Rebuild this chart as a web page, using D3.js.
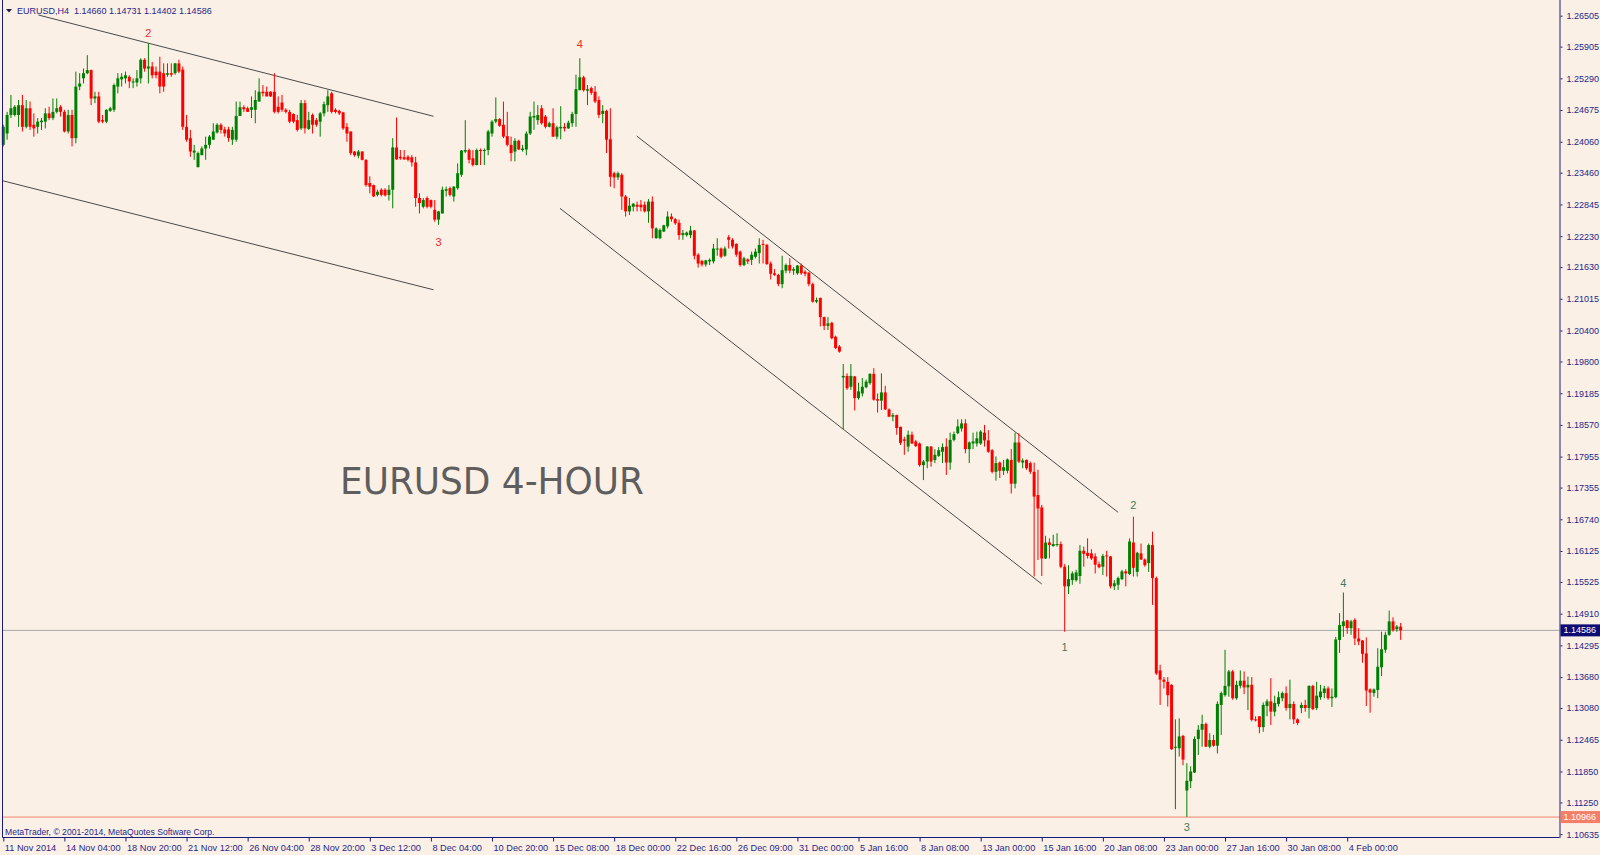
<!DOCTYPE html>
<html><head><meta charset="utf-8">
<script src="https://cdn.jsdelivr.net/npm/d3@7"></script>
<style>
html,body{margin:0;padding:0;background:#fbf0e6;}
svg{display:block;}
</style></head><body>
<svg id="chart" width="1600" height="855"></svg>
<script>
// ---- DATA (EURUSD H4) ----
const opens = [
1.2400,1.2422,1.2458,1.2458,1.2458,1.2477,1.2435,1.2471,1.2439,1.2435,
1.2444,1.2445,1.2461,1.2452,1.2464,1.2474,1.2464,1.2426,1.2458,1.2413,
1.2513,1.2529,1.2539,1.2545,1.2490,1.2494,1.2448,1.2445,1.2466,1.2468,
1.2513,1.2527,1.2529,1.2532,1.2521,1.2521,1.2529,1.2565,1.2548,1.2552,
1.2542,1.2542,1.2539,1.2536,1.2539,1.2539,1.2558,1.2546,1.2435,1.2413,
1.2385,1.2357,1.2380,1.2393,1.2400,1.2410,1.2424,1.2439,1.2430,1.2430,
1.2410,1.2410,1.2456,1.2473,1.2471,1.2468,1.2468,1.2484,1.2503,1.2503,
1.2503,1.2503,1.2474,1.2482,1.2468,1.2464,1.2460,1.2448,1.2432,1.2481,
1.2431,1.2458,1.2448,1.2445,1.2461,1.2477,1.2500,1.2468,1.2466,1.2463,
1.2435,1.2426,1.2387,1.2379,1.2387,1.2371,1.2326,1.2322,1.2303,1.2313,
1.2313,1.2303,1.2313,1.2395,1.2377,1.2376,1.2377,1.2376,1.2366,1.2297,
1.2280,1.2297,1.2293,1.2274,1.2255,1.2267,1.2311,1.2316,1.2300,1.2316,
1.2342,1.2387,1.2390,1.2374,1.2361,1.2390,1.2388,1.2390,1.2422,1.2445,
1.2450,1.2439,1.2417,1.2400,1.2387,1.2408,1.2390,1.2391,1.2422,1.2453,
1.2448,1.2471,1.2455,1.2435,1.2442,1.2416,1.2432,1.2435,1.2432,1.2442,
1.2460,1.2506,1.2531,1.2505,1.2510,1.2503,1.2487,1.2460,1.2466,1.2411,
1.2345,1.2337,1.2342,1.2300,1.2271,1.2280,1.2284,1.2284,1.2284,1.2271,
1.2290,1.2219,1.2219,1.2232,1.2242,1.2261,1.2256,1.2249,1.2225,1.2225,
1.2225,1.2234,1.2187,1.2175,1.2168,1.2174,1.2174,1.2198,1.2199,1.2185,
1.2221,1.2216,1.2208,1.2193,1.2167,1.2178,1.2177,1.2183,1.2190,1.2208,
1.2206,1.2170,1.2151,1.2148,1.2130,1.2156,1.2167,1.2156,1.2151,1.2166,
1.2154,1.2152,1.2130,1.2096,1.2103,1.2066,1.2049,1.2055,1.2028,1.2009,
1.1949,1.1952,1.1931,1.1951,1.1909,1.1918,1.1930,1.1938,1.1956,1.1907,
1.1904,1.1920,1.1887,1.1873,1.1876,1.1853,1.1829,1.1815,1.1838,1.1825,
1.1821,1.1779,1.1786,1.1815,1.1789,1.1797,1.1805,1.1815,1.1784,1.1828,
1.1841,1.1850,1.1860,1.1810,1.1821,1.1821,1.1821,1.1842,1.1827,1.1808,
1.1766,1.1784,1.1768,1.1768,1.1789,1.1743,1.1823,1.1784,1.1789,1.1783,
1.1766,1.1721,1.1697,1.1598,1.1629,1.1622,1.1624,1.1626,1.1582,1.1544,
1.1556,1.1556,1.1564,1.1613,1.1609,1.1608,1.1602,1.1587,1.1582,1.1604,
1.1602,1.1544,1.1547,1.1558,1.1573,1.1568,1.1629,1.1572,1.1608,1.1596,
1.1589,1.1624,1.1560,1.1381,1.1363,1.1359,1.1353,1.1231,1.1230,1.1254,
1.1148,1.1166,1.1183,1.1248,1.1266,1.1277,1.1233,1.1246,1.1235,1.1314,
1.1333,1.1350,1.1379,1.1327,1.1351,1.1361,1.1348,1.1353,1.1286,1.1292,
1.1271,1.1312,1.1321,1.1301,1.1316,1.1327,1.1337,1.1308,1.1316,1.1286,
1.1308,1.1314,1.1308,1.1351,1.1308,1.1329,1.1337,1.1346,1.1327,1.1329,
1.1440,1.1467,1.1478,1.1463,1.1479,1.1443,1.1439,1.1414,1.1344,1.1337,
1.1343,1.1387,1.1421,1.1450,1.1476,1.1461,1.14660];
const highs = [
1.2439,1.2464,1.2497,1.2477,1.2487,1.2497,1.2487,1.2484,1.2461,1.2452,
1.2452,1.2471,1.2474,1.2490,1.2490,1.2477,1.2468,1.2468,1.2468,1.2542,
1.2539,1.2548,1.2574,1.2546,1.2503,1.2503,1.2458,1.2469,1.2474,1.2519,
1.2539,1.2539,1.2542,1.2535,1.2529,1.2545,1.2568,1.2568,1.2597,1.2561,
1.2552,1.2571,1.2558,1.2558,1.2558,1.2559,1.2565,1.2552,1.2458,1.2429,
1.2400,1.2387,1.2397,1.2416,1.2419,1.2442,1.2442,1.2442,1.2435,1.2435,
1.2435,1.2484,1.2484,1.2477,1.2474,1.2494,1.2506,1.2529,1.2516,1.2513,
1.2504,1.2539,1.2494,1.2497,1.2471,1.2468,1.2461,1.2458,1.2487,1.2487,
1.2464,1.2461,1.2452,1.2464,1.2484,1.2506,1.2503,1.2471,1.2468,1.2464,
1.2442,1.2426,1.2388,1.2390,1.2388,1.2372,1.2339,1.2323,1.2313,1.2316,
1.2316,1.2322,1.2413,1.2453,1.2390,1.2390,1.2380,1.2380,1.2377,1.2306,
1.2297,1.2300,1.2294,1.2293,1.2272,1.2319,1.2319,1.2319,1.2320,1.2364,
1.2390,1.2448,1.2393,1.2390,1.2393,1.2393,1.2393,1.2429,1.2448,1.2492,
1.2452,1.2484,1.2464,1.2416,1.2413,1.2410,1.2400,1.2426,1.2464,1.2484,
1.2477,1.2477,1.2458,1.2445,1.2471,1.2437,1.2475,1.2442,1.2447,1.2464,
1.2536,1.2568,1.2534,1.2516,1.2513,1.2514,1.2494,1.2477,1.2468,1.2471,
1.2348,1.2348,1.2345,1.2303,1.2297,1.2287,1.2290,1.2293,1.2290,1.2295,
1.2300,1.2240,1.2238,1.2245,1.2271,1.2267,1.2258,1.2255,1.2235,1.2232,
1.2243,1.2235,1.2190,1.2177,1.2177,1.2180,1.2208,1.2219,1.2201,1.2203,
1.2225,1.2219,1.2209,1.2195,1.2183,1.2180,1.2193,1.2199,1.2219,1.2216,
1.2208,1.2174,1.2159,1.2150,1.2185,1.2170,1.2180,1.2163,1.2167,1.2170,
1.2157,1.2154,1.2133,1.2104,1.2104,1.2067,1.2066,1.2057,1.2030,1.2012,
1.1975,1.1957,1.1975,1.1952,1.1939,1.1948,1.1945,1.1957,1.1967,1.1918,
1.1957,1.1933,1.1889,1.1880,1.1877,1.1854,1.1834,1.1846,1.1844,1.1828,
1.1823,1.1789,1.1816,1.1816,1.1810,1.1814,1.1821,1.1831,1.1842,1.1844,
1.1868,1.1868,1.1868,1.1825,1.1842,1.1844,1.1847,1.1857,1.1847,1.1810,
1.1796,1.1786,1.1789,1.1792,1.1810,1.1842,1.1841,1.1792,1.1790,1.1786,
1.1784,1.1770,1.1702,1.1642,1.1637,1.1644,1.1647,1.1631,1.1587,1.1585,
1.1573,1.1576,1.1624,1.1621,1.1637,1.1616,1.1608,1.1592,1.1607,1.1613,
1.1603,1.1556,1.1563,1.1576,1.1577,1.1637,1.1679,1.1611,1.1627,1.1598,
1.1627,1.1650,1.1563,1.1392,1.1368,1.1368,1.1354,1.1286,1.1288,1.1256,
1.1201,1.1195,1.1253,1.1275,1.1295,1.1280,1.1259,1.1256,1.1321,1.1340,
1.1421,1.1382,1.1382,1.1361,1.1381,1.1379,1.1369,1.1368,1.1292,1.1292,
1.1319,1.1325,1.1366,1.1332,1.1340,1.1340,1.1350,1.1363,1.1321,1.1288,
1.1319,1.1324,1.1352,1.1353,1.1359,1.1353,1.1351,1.1350,1.1346,1.1446,
1.1492,1.1532,1.1479,1.1479,1.1482,1.1463,1.1440,1.1445,1.1346,1.1346,
1.1424,1.1456,1.1456,1.1497,1.1484,1.1469,1.14731];
const lows = [
1.2397,1.2410,1.2452,1.2455,1.2435,1.2426,1.2432,1.2429,1.2416,1.2422,
1.2429,1.2432,1.2448,1.2448,1.2461,1.2455,1.2424,1.2422,1.2397,1.2403,
1.2506,1.2519,1.2537,1.2477,1.2481,1.2442,1.2442,1.2442,1.2464,1.2464,
1.2500,1.2513,1.2519,1.2510,1.2510,1.2513,1.2519,1.2542,1.2519,1.2529,
1.2529,1.2500,1.2503,1.2532,1.2532,1.2536,1.2539,1.2429,1.2406,1.2377,
1.2371,1.2356,1.2380,1.2371,1.2393,1.2410,1.2422,1.2422,1.2416,1.2406,
1.2400,1.2406,1.2456,1.2464,1.2464,1.2452,1.2442,1.2484,1.2494,1.2494,
1.2493,1.2461,1.2461,1.2464,1.2461,1.2442,1.2442,1.2426,1.2429,1.2422,
1.2429,1.2422,1.2435,1.2416,1.2455,1.2464,1.2461,1.2461,1.2458,1.2429,
1.2406,1.2380,1.2377,1.2374,1.2370,1.2319,1.2306,1.2299,1.2300,1.2300,
1.2300,1.2292,1.2277,1.2371,1.2371,1.2371,1.2368,1.2358,1.2280,1.2267,
1.2277,1.2277,1.2277,1.2251,1.2245,1.2267,1.2300,1.2300,1.2290,1.2313,
1.2338,1.2384,1.2364,1.2358,1.2360,1.2361,1.2361,1.2380,1.2416,1.2442,
1.2435,1.2413,1.2397,1.2368,1.2368,1.2390,1.2387,1.2380,1.2419,1.2429,
1.2439,1.2439,1.2432,1.2434,1.2415,1.2411,1.2411,1.2426,1.2431,1.2435,
1.2435,1.2506,1.2503,1.2477,1.2497,1.2481,1.2452,1.2442,1.2384,1.2319,
1.2316,1.2332,1.2274,1.2261,1.2264,1.2271,1.2271,1.2271,1.2269,1.2249,
1.2219,1.2218,1.2217,1.2231,1.2238,1.2251,1.2245,1.2216,1.2216,1.2222,
1.2219,1.2178,1.2162,1.2164,1.2164,1.2167,1.2170,1.2185,1.2180,1.2183,
1.2199,1.2199,1.2183,1.2164,1.2165,1.2169,1.2167,1.2180,1.2170,1.2170,
1.2167,1.2139,1.2146,1.2126,1.2122,1.2151,1.2151,1.2148,1.2148,1.2148,
1.2145,1.2126,1.2094,1.2093,1.2048,1.2041,1.2041,1.2023,1.2004,1.1997,
1.1849,1.1925,1.1925,1.1885,1.1906,1.1912,1.1928,1.1935,1.1904,1.1881,
1.1886,1.1886,1.1872,1.1864,1.1838,1.1818,1.1799,1.1805,1.1820,1.1814,
1.1776,1.1750,1.1773,1.1776,1.1783,1.1795,1.1783,1.1760,1.1770,1.1825,
1.1839,1.1844,1.1802,1.1783,1.1810,1.1815,1.1818,1.1815,1.1803,1.1763,
1.1749,1.1754,1.1760,1.1763,1.1724,1.1734,1.1783,1.1773,1.1770,1.1762,
1.1563,1.1595,1.1564,1.1597,1.1598,1.1621,1.1621,1.1579,1.1456,1.1529,
1.1547,1.1553,1.1549,1.1582,1.1598,1.1595,1.1569,1.1579,1.1566,1.1563,
1.1540,1.1537,1.1537,1.1556,1.1544,1.1566,1.1563,1.1563,1.1595,1.1582,
1.1572,1.1508,1.1372,1.1314,1.1346,1.1311,1.1227,1.1112,1.1214,1.1197,
1.1097,1.1153,1.1182,1.1217,1.1233,1.1233,1.1230,1.1233,1.1220,1.1256,
1.1330,1.1330,1.1324,1.1324,1.1346,1.1335,1.1304,1.1282,1.1282,1.1259,
1.1262,1.1292,1.1275,1.1292,1.1311,1.1321,1.1303,1.1286,1.1277,1.1275,
1.1298,1.1301,1.1288,1.1304,1.1304,1.1324,1.1327,1.1324,1.1310,1.1327,
1.1415,1.1446,1.1452,1.1450,1.1430,1.1430,1.1396,1.1312,1.1299,1.1330,
1.1327,1.1370,1.1415,1.1448,1.1456,1.1456,1.14402];
const closes = [
1.2435,1.2458,1.2471,1.2474,1.2477,1.2435,1.2471,1.2435,1.2432,1.2445,
1.2447,1.2461,1.2452,1.2464,1.2471,1.2464,1.2426,1.2458,1.2413,1.2513,
1.2519,1.2539,1.2545,1.2490,1.2494,1.2445,1.2445,1.2468,1.2471,1.2516,
1.2529,1.2532,1.2535,1.2523,1.2523,1.2529,1.2565,1.2548,1.2552,1.2535,
1.2535,1.2513,1.2513,1.2539,1.2536,1.2558,1.2542,1.2435,1.2410,1.2387,
1.2389,1.2384,1.2393,1.2400,1.2416,1.2426,1.2439,1.2429,1.2422,1.2413,
1.2429,1.2456,1.2473,1.2469,1.2464,1.2473,1.2487,1.2503,1.2500,1.2494,
1.2494,1.2464,1.2464,1.2468,1.2464,1.2445,1.2445,1.2429,1.2481,1.2432,
1.2448,1.2439,1.2439,1.2461,1.2479,1.2494,1.2464,1.2464,1.2461,1.2432,
1.2422,1.2384,1.2380,1.2387,1.2371,1.2322,1.2319,1.2300,1.2309,1.2303,
1.2302,1.2313,1.2395,1.2372,1.2374,1.2372,1.2371,1.2366,1.2297,1.2287,
1.2293,1.2280,1.2280,1.2255,1.2271,1.2313,1.2314,1.2303,1.2319,1.2345,
1.2389,1.2390,1.2371,1.2361,1.2390,1.2388,1.2390,1.2426,1.2445,1.2450,
1.2437,1.2416,1.2400,1.2384,1.2408,1.2391,1.2393,1.2422,1.2455,1.2456,
1.2458,1.2442,1.2435,1.2442,1.2416,1.2434,1.2435,1.2432,1.2443,1.2460,
1.2508,1.2531,1.2506,1.2508,1.2501,1.2484,1.2458,1.2466,1.2410,1.2338,
1.2337,1.2345,1.2300,1.2271,1.2282,1.2286,1.2280,1.2279,1.2271,1.2290,
1.2238,1.2238,1.2235,1.2244,1.2261,1.2256,1.2248,1.2225,1.2229,1.2230,
1.2234,1.2185,1.2170,1.2168,1.2176,1.2177,1.2199,1.2199,1.2183,1.2199,
1.2216,1.2203,1.2187,1.2167,1.2180,1.2174,1.2187,1.2193,1.2206,1.2206,
1.2169,1.2150,1.2148,1.2130,1.2157,1.2167,1.2156,1.2159,1.2166,1.2151,
1.2150,1.2130,1.2096,1.2099,1.2066,1.2049,1.2054,1.2025,1.2006,1.1999,
1.1952,1.1928,1.1952,1.1909,1.1922,1.1931,1.1941,1.1956,1.1906,1.1904,
1.1920,1.1887,1.1873,1.1876,1.1851,1.1822,1.1826,1.1838,1.1821,1.1816,
1.1779,1.1786,1.1815,1.1786,1.1799,1.1808,1.1814,1.1784,1.1828,1.1839,
1.1854,1.1860,1.1810,1.1823,1.1825,1.1831,1.1844,1.1827,1.1805,1.1766,
1.1783,1.1768,1.1775,1.1790,1.1743,1.1823,1.1786,1.1788,1.1773,1.1766,
1.1718,1.1695,1.1598,1.1629,1.1624,1.1626,1.1626,1.1582,1.1544,1.1558,
1.1569,1.1571,1.1613,1.1607,1.1603,1.1598,1.1586,1.1581,1.1603,1.1602,
1.1544,1.1550,1.1560,1.1573,1.1569,1.1631,1.1580,1.1609,1.1596,1.1585,
1.1624,1.1560,1.1375,1.1363,1.1359,1.1333,1.1228,1.1233,1.1253,1.1208,
1.1167,1.1185,1.1248,1.1266,1.1277,1.1233,1.1246,1.1235,1.1316,1.1337,
1.1351,1.1379,1.1327,1.1353,1.1361,1.1348,1.1353,1.1285,1.1284,1.1271,
1.1314,1.1321,1.1301,1.1318,1.1329,1.1337,1.1308,1.1316,1.1286,1.1279,
1.1314,1.1308,1.1351,1.1306,1.1332,1.1340,1.1346,1.1327,1.1330,1.1441,
1.1469,1.1476,1.1463,1.1476,1.1443,1.1437,1.1413,1.1342,1.1338,1.1344,
1.1388,1.1422,1.1450,1.1476,1.1459,1.1466,1.14586];

// time-axis labels, one every 16 H4 bars starting at the first visible bar
const dateLabels = ["11 Nov 2014","14 Nov 04:00","18 Nov 20:00","21 Nov 12:00","26 Nov 04:00",
 "28 Nov 20:00","3 Dec 12:00","8 Dec 04:00","10 Dec 20:00","15 Dec 08:00","18 Dec 00:00",
 "22 Dec 16:00","26 Dec 09:00","31 Dec 00:00","5 Jan 16:00","8 Jan 08:00","13 Jan 00:00",
 "15 Jan 16:00","20 Jan 08:00","23 Jan 00:00","27 Jan 16:00","30 Jan 08:00","4 Feb 00:00"];
const dateLabelBars = [0,16,32,48,64,80,96,112,128,144,160,176,192,208,224,240,256,272,288,304,320,336,352];

const priceTicks = [1.26505,1.25905,1.25290,1.24675,1.24060,1.23460,1.22845,1.22230,1.21630,
 1.21015,1.20400,1.19800,1.19185,1.18570,1.17955,1.17355,1.16740,1.16125,1.15525,1.14910,
 1.14295,1.13680,1.13080,1.12465,1.11850,1.11250,1.10635];

// Elliott wave labels
const waveText  = ["2","3","4","1","2","3","4"];
const waveBar   = [38,114,151,278,296,310,351];
const wavePrice = [1.2616,1.2212,1.2596,1.1426,1.1702,1.1078,1.1551];
const waveDegree= ["major","major","major","minor","minor","minor","minor"];

// channel / trend lines (bar index, price)
const lineStartBar   = [9.2,-0.2,165.9,145.8];
const lineStartPrice = [1.26518,1.23305,1.24172,1.22770];
const lineEndBar     = [112.7,112.7,292.0,272.0];
const lineEndPrice   = [1.24554,1.21190,1.16875,1.15485];

const symbolHeader = "EURUSD,H4  1.14660 1.14731 1.14402 1.14586";
const bidPrice = 1.14586;
const lowLevel = 1.10966;
const chartTitle = "EURUSD 4-HOUR";
const copyright = "MetaTrader, \u00A9 2001-2014, MetaQuotes Software Corp.";

// ---- DRAWING ----
const W = 1600, H = 855;
const bg = "#fbf0e6", navy = "#1c1c7a";
const upCol = "#008000", downCol = "#ff0000";
const left = 2.5, right = 1559.5, bottom = 837.5;

const svg = d3.select("#chart");
svg.append("rect").attr("width", W).attr("height", H).attr("fill", bg);

const x = d3.scaleLinear().domain([0, 352]).range([3.3, 1347.2]);
const y = d3.scaleLinear().domain([1.10562, 1.26809]).range([837.9, 0]);

const bars = d3.range(opens.length).map(i => ({i, o: opens[i], h: highs[i], l: lows[i], c: closes[i]}));

// horizontal levels
svg.append("line").attr("x1", left).attr("x2", right)
  .attr("y1", y(bidPrice)).attr("y2", y(bidPrice))
  .attr("stroke", "#a4a6ac").attr("stroke-width", 1);
svg.append("line").attr("x1", left).attr("x2", right)
  .attr("y1", y(lowLevel)).attr("y2", y(lowLevel))
  .attr("stroke", "#f4846c").attr("stroke-width", 1);

// trend lines
const plot = svg.append("g");
plot.selectAll("line.trend").data(lineStartBar).join("line").attr("class", "trend")
  .attr("x1", (d, k) => x(lineStartBar[k])).attr("y1", (d, k) => y(lineStartPrice[k]))
  .attr("x2", (d, k) => x(lineEndBar[k])).attr("y2", (d, k) => y(lineEndPrice[k]))
  .attr("stroke", "#4a4a4a").attr("stroke-width", 1);

// candles
const cg = plot.append("g");
const bw = 3;
cg.selectAll("rect.wick").data(bars).join("rect").attr("class", "wick")
  .attr("x", d => x(d.i) - 0.5).attr("width", 1)
  .attr("y", d => y(Math.max(d.h, d.o, d.c)))
  .attr("height", d => Math.max(1, y(Math.min(d.l, d.o, d.c)) - y(Math.max(d.h, d.o, d.c))))
  .attr("fill", d => d.c >= d.o ? upCol : downCol);
cg.selectAll("rect.body").data(bars).join("rect").attr("class", "body")
  .attr("x", d => x(d.i) - bw / 2).attr("width", bw)
  .attr("y", d => y(Math.max(d.o, d.c)))
  .attr("height", d => Math.max(1, Math.abs(y(d.o) - y(d.c))))
  .attr("fill", d => d.c >= d.o ? upCol : downCol);

// wave labels
plot.selectAll("text.wave").data(waveText).join("text").attr("class", "wave")
  .attr("x", (d, k) => x(waveBar[k])).attr("y", (d, k) => y(wavePrice[k]))
  .attr("text-anchor", "middle").attr("dominant-baseline", "central")
  .attr("font-family", "Liberation Sans, Arial, sans-serif").attr("font-size", 11)
  .attr("fill", (d, k) => waveDegree[k] === "major" ? "#f02828" : "#3f7a5c")
  .text(d => d);

// big title
svg.append("text").attr("x", 340).attr("y", 494)
  .attr("font-family", "DejaVu Sans, Verdana, sans-serif").attr("font-size", 37)
  .attr("textLength", 304).attr("lengthAdjust", "spacingAndGlyphs")
  .attr("fill", "#5e5e5e").text(chartTitle);

// frame
svg.append("line").attr("x1", left).attr("x2", left).attr("y1", 0).attr("y2", bottom)
  .attr("stroke", navy).attr("stroke-width", 1);
svg.append("line").attr("x1", left).attr("x2", right).attr("y1", bottom).attr("y2", bottom)
  .attr("stroke", navy).attr("stroke-width", 1);

// price axis
const yAxis = d3.axisRight(y).tickValues(priceTicks).tickFormat(d3.format(".5f"))
  .tickSize(3).tickSizeOuter(0).tickPadding(4);
const ya = svg.append("g").attr("transform", `translate(${right},0)`).call(yAxis);
ya.select(".domain").attr("stroke", navy).attr("d", `M0.5,0V${bottom + 0.5}`);
ya.selectAll(".tick line").attr("stroke", navy).attr("x1", 1);
ya.selectAll(".tick text").attr("fill", "#26268a")
  .attr("font-family", "Liberation Sans, Arial, sans-serif").attr("font-size", 9);

// time axis
const xAxis = d3.axisBottom(x).tickValues(dateLabelBars)
  .tickFormat((d, k) => dateLabels[k]).tickSize(4).tickSizeOuter(0).tickPadding(3);
const xa = svg.append("g").attr("transform", `translate(0,${bottom})`).call(xAxis);
xa.select(".domain").remove();
xa.selectAll(".tick line").attr("stroke", navy);
xa.selectAll(".tick text").attr("text-anchor", "start").attr("dx", 1)
  .attr("fill", "#26268a").attr("font-family", "Liberation Sans, Arial, sans-serif").attr("font-size", 9.2);

// price boxes on the axis
function priceBox(p, fill) {
  const g = svg.append("g");
  g.append("rect").attr("x", right + 1).attr("y", y(p) - 6).attr("width", W - right - 1).attr("height", 12)
    .attr("fill", fill);
  g.append("text").attr("x", right + 4).attr("y", y(p)).attr("dominant-baseline", "central")
    .attr("fill", "#ffffff").attr("font-family", "Liberation Sans, Arial, sans-serif")
    .attr("font-size", 9).text(d3.format(".5f")(p));
}
priceBox(bidPrice, "#0c0c72");
priceBox(lowLevel, "#f47e68");

// header
svg.append("path").attr("d", "M6,9 L12,9 L9,12.5 Z").attr("fill", "#1c1c4a");
svg.append("text").attr("x", 17).attr("y", 14).attr("fill", "#26268a")
  .attr("font-family", "Liberation Sans, Arial, sans-serif").attr("font-size", 9)
  .attr("xml:space", "preserve").style("white-space", "pre").text(symbolHeader);

// copyright
svg.append("text").attr("x", 5).attr("y", 835).attr("fill", "#26268a")
  .attr("font-family", "Liberation Sans, Arial, sans-serif").attr("font-size", 8.6).text(copyright);
</script>
</body></html>
